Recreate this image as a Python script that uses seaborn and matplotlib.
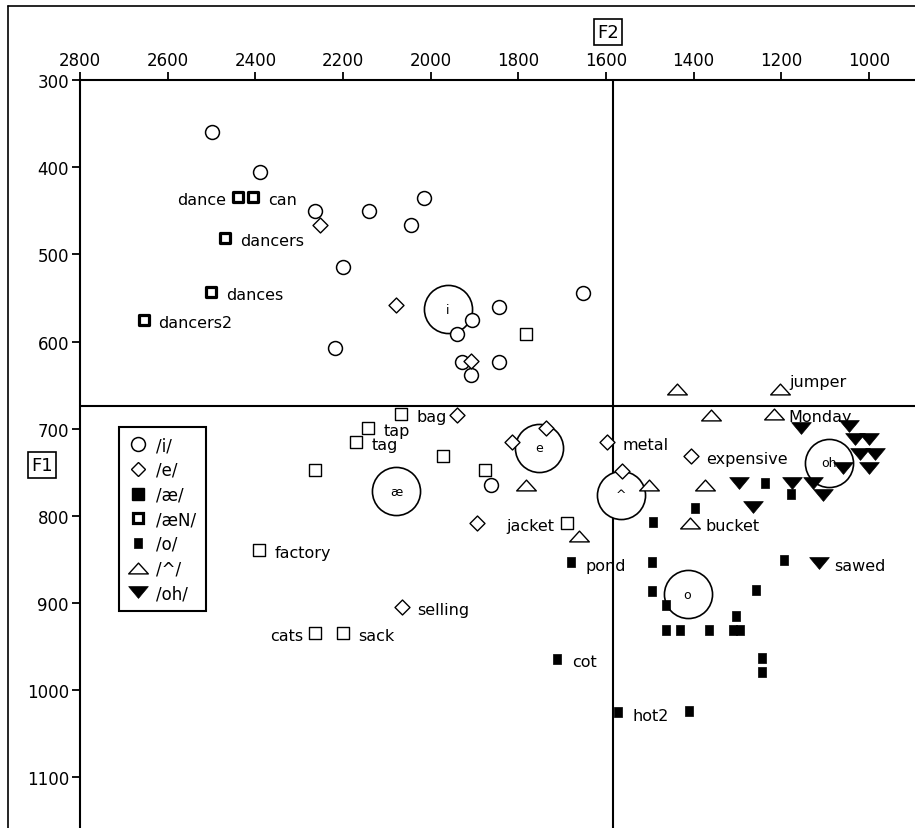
import numpy as np
import pandas as pd
import matplotlib
matplotlib.use("Agg")
import matplotlib.pyplot as plt
from matplotlib.lines import Line2D
from matplotlib.path import Path
import seaborn as sns

# vowel tokens, F2 / F1 in Hz
i_f2 = [2499, 2390, 2263, 2141, 2015, 2045, 2199, 2218, 1906, 1940, 1929, 1908, 1843, 1843, 1653, 1862]
i_f1 = [360, 405, 450, 450, 435, 466, 514, 607, 575, 591, 623, 638, 560, 624, 544, 764]
i_word = [''] * 16

e_f2 = [2252, 2079, 1909, 1940, 1894, 1737, 1815, 1597, 1564, 1406, 2066]
e_f1 = [466, 558, 622, 684, 808, 699, 715, 715, 748, 731, 904]
e_word = ['', '', '', '', '', '', '', 'metal', '', 'expensive', 'selling']

ae_f2 = [2067, 2142, 2170, 2265, 1972, 1876, 1783, 1690, 2391, 2263, 2200]
ae_f1 = [683, 699, 715, 747, 731, 747, 591, 808, 839, 934, 934]
ae_word = ['bag', 'tap', 'tag', '', '', '', '', 'jacket', 'factory', 'cats', 'sack']

aeN_f2 = [2439, 2405, 2470, 2501, 2655]
aeN_f1 = [434, 434, 481, 543, 575]
aeN_word = ['dance', 'can', 'dancers', 'dances', 'dancers2']

o_f2 = [1238, 1179, 1396, 1492, 1680, 1495, 1495, 1464, 1464, 1432, 1366, 1304, 1310, 1295,
        1257, 1243, 1243, 1193, 1711, 1573, 1411]
o_f1 = [762, 775, 791, 807, 853, 853, 886, 902, 931, 931, 931, 915, 931, 931,
        885, 963, 979, 851, 964, 1025, 1024]
o_word = ['', '', '', '', 'pond', '', '', '', '', '', '', '', '', '',
          '', '', '', '', 'cot', 'hot2', '']

uh_f2 = [1438, 1204, 1360, 1217, 1782, 1501, 1375, 1408, 1661]
uh_f1 = [655, 654, 684, 683, 765, 764, 764, 808, 823]
uh_word = ['', 'jumper', '', 'Monday', '', '', '', 'bucket', '']

oh_f2 = [1154, 1046, 1033, 1001, 1020, 987, 1001, 1060, 1297, 1175, 1128, 1106, 1265, 1114]
oh_f1 = [699, 697, 712, 712, 729, 729, 745, 745, 762, 762, 762, 776, 790, 854]
oh_word = [''] * 13 + ['sawed']

# category means
mean_lab = ['i', 'e', 'æ', '^', 'o', 'oh']
mean_f2 = [1961, 1752, 2079, 1566, 1414, 1091]
mean_f1 = [563, 722, 772, 776, 890, 739]

F2_LINE = 1585
F1_LINE = 674

sns.set_theme(style="white")
plt.rcParams['font.family'] = ['DejaVu Sans']
plt.rcParams['text.color'] = 'black'

up_tri = Path([(-1, -0.55), (1, -0.55), (0, 0.55), (-1, -0.55)], closed=True)
down_tri = Path([(-1, 0.6), (1, 0.6), (0, -0.6), (-1, 0.6)], closed=True)
tall_sq = Path([(-0.4, -0.5), (0.4, -0.5), (0.4, 0.5), (-0.4, 0.5), (-0.4, -0.5)], closed=True)

groups = [
    ('/i/', i_f2, i_f1, i_word, dict(marker='o', s=100, color='white', edgecolor='black', linewidth=1.1)),
    ('/e/', e_f2, e_f1, e_word, dict(marker='D', s=58, color='white', edgecolor='black', linewidth=1.0)),
    ('/æ/', ae_f2, ae_f1, ae_word, dict(marker='s', s=70, color='white', edgecolor='black', linewidth=1.0)),
    ('/æN/', aeN_f2, aeN_f1, aeN_word, dict(marker='s', s=55, color='white', edgecolor='black', linewidth=2.3)),
    ('/o/', o_f2, o_f1, o_word, dict(marker=tall_sq, s=55, color='black', edgecolor='black', linewidth=0.5)),
    ('/^/', uh_f2, uh_f1, uh_word, dict(marker=up_tri, s=200, color='white', edgecolor='black', linewidth=1.0)),
    ('/oh/', oh_f2, oh_f1, oh_word, dict(marker=down_tri, s=200, color='black', edgecolor='black', linewidth=0.5)),
]

fig = plt.figure(figsize=(9.15, 8.29), dpi=100)
ax = fig.add_axes([80 / 915, 0, 835 / 915, 1 - 81 / 829])

ax.axvline(F2_LINE, color='black', lw=1.5, zorder=1)
ax.axhline(F1_LINE, color='black', lw=1.5, zorder=1)

means = pd.DataFrame({'F2': mean_f2, 'F1': mean_f1})
sns.scatterplot(data=means, x='F2', y='F1', ax=ax, marker='o', s=1200,
                color='white', edgecolor='black', linewidth=1.2, zorder=2, legend=False)
for lab, x, y in zip(mean_lab, mean_f2, mean_f1):
    ax.text(x, y, lab, ha='center', va='center', fontsize=9, zorder=2.5)

# label offsets in pixels
left_words = {'dance', 'jacket', 'cats'}
special = {'jumper': (10, 7)}

for name, f2, f1, words, kw in groups:
    df = pd.DataFrame({'F2': f2, 'F1': f1})
    sns.scatterplot(data=df, x='F2', y='F1', ax=ax, zorder=4, legend=False, **kw)
    for w, x, y in zip(words, f2, f1):
        if not w:
            continue
        if w in left_words:
            dx, dy, ha = -12, -3, 'right'
        else:
            dx, dy = special.get(w, (15, -3))
            ha = 'left'
        ax.annotate(w, (x, y), xytext=(dx, dy), textcoords='offset pixels',
                    ha=ha, va='center', fontsize=11.5, zorder=5)

ax.set_xlim(2800, 895)
ax.set_ylim(1158, 300)
ax.set_xticks(np.arange(2800, 999, -200))
ax.set_yticks(np.arange(300, 1101, 100))
ax.xaxis.tick_top()
ax.tick_params(axis='both', direction='out', length=6, width=1.3, labelsize=12,
               color='black', labelcolor='black', pad=2)
ax.tick_params(axis='x', top=True, bottom=False)
ax.tick_params(axis='y', left=True)
ax.set_xlabel('')
ax.set_ylabel('')
for side in ['right', 'bottom']:
    ax.spines[side].set_visible(False)
for side in ['top', 'left']:
    ax.spines[side].set_color('black')
    ax.spines[side].set_linewidth(1.5)

handles = []
for name, f2, f1, words, kw in groups:
    m = kw['marker']
    fc = kw['color']
    ms = np.sqrt(kw['s'])
    mew = kw['linewidth']
    if name == '/æ/':
        fc = 'black'
        ms = 8.5
    handles.append(Line2D([], [], linestyle='none', marker=m, markersize=ms,
                          markerfacecolor=fc, markeredgecolor='black', markeredgewidth=mew,
                          label=name))
leg = ax.legend(handles=handles, loc='upper left', bbox_to_anchor=(39 / 835, 1 - 347 / 748),
                borderaxespad=0, frameon=True, fancybox=False, framealpha=1,
                edgecolor='black', fontsize=12, handlelength=1.2, handletextpad=0.5,
                labelspacing=0.4, borderpad=0.55)
leg.get_frame().set_linewidth(1.5)

fig.text(608 / 915, 1 - 33 / 829, 'F2', ha='center', va='center', fontsize=13,
         bbox=dict(boxstyle='square,pad=0.2', fc='white', ec='black', lw=1.2))
fig.text(42 / 915, 1 - 466 / 829, 'F1', ha='center', va='center', fontsize=13,
         bbox=dict(boxstyle='square,pad=0.2', fc='white', ec='black', lw=1.2))

fig.add_artist(Line2D([8 / 915, 8 / 915], [0, 1 - 7 / 829], color='black', lw=1.2,
                      transform=fig.transFigure))
fig.add_artist(Line2D([8 / 915, 1], [1 - 7 / 829, 1 - 7 / 829], color='black', lw=1.2,
                      transform=fig.transFigure))

fig.savefig('out.png', dpi=100)
